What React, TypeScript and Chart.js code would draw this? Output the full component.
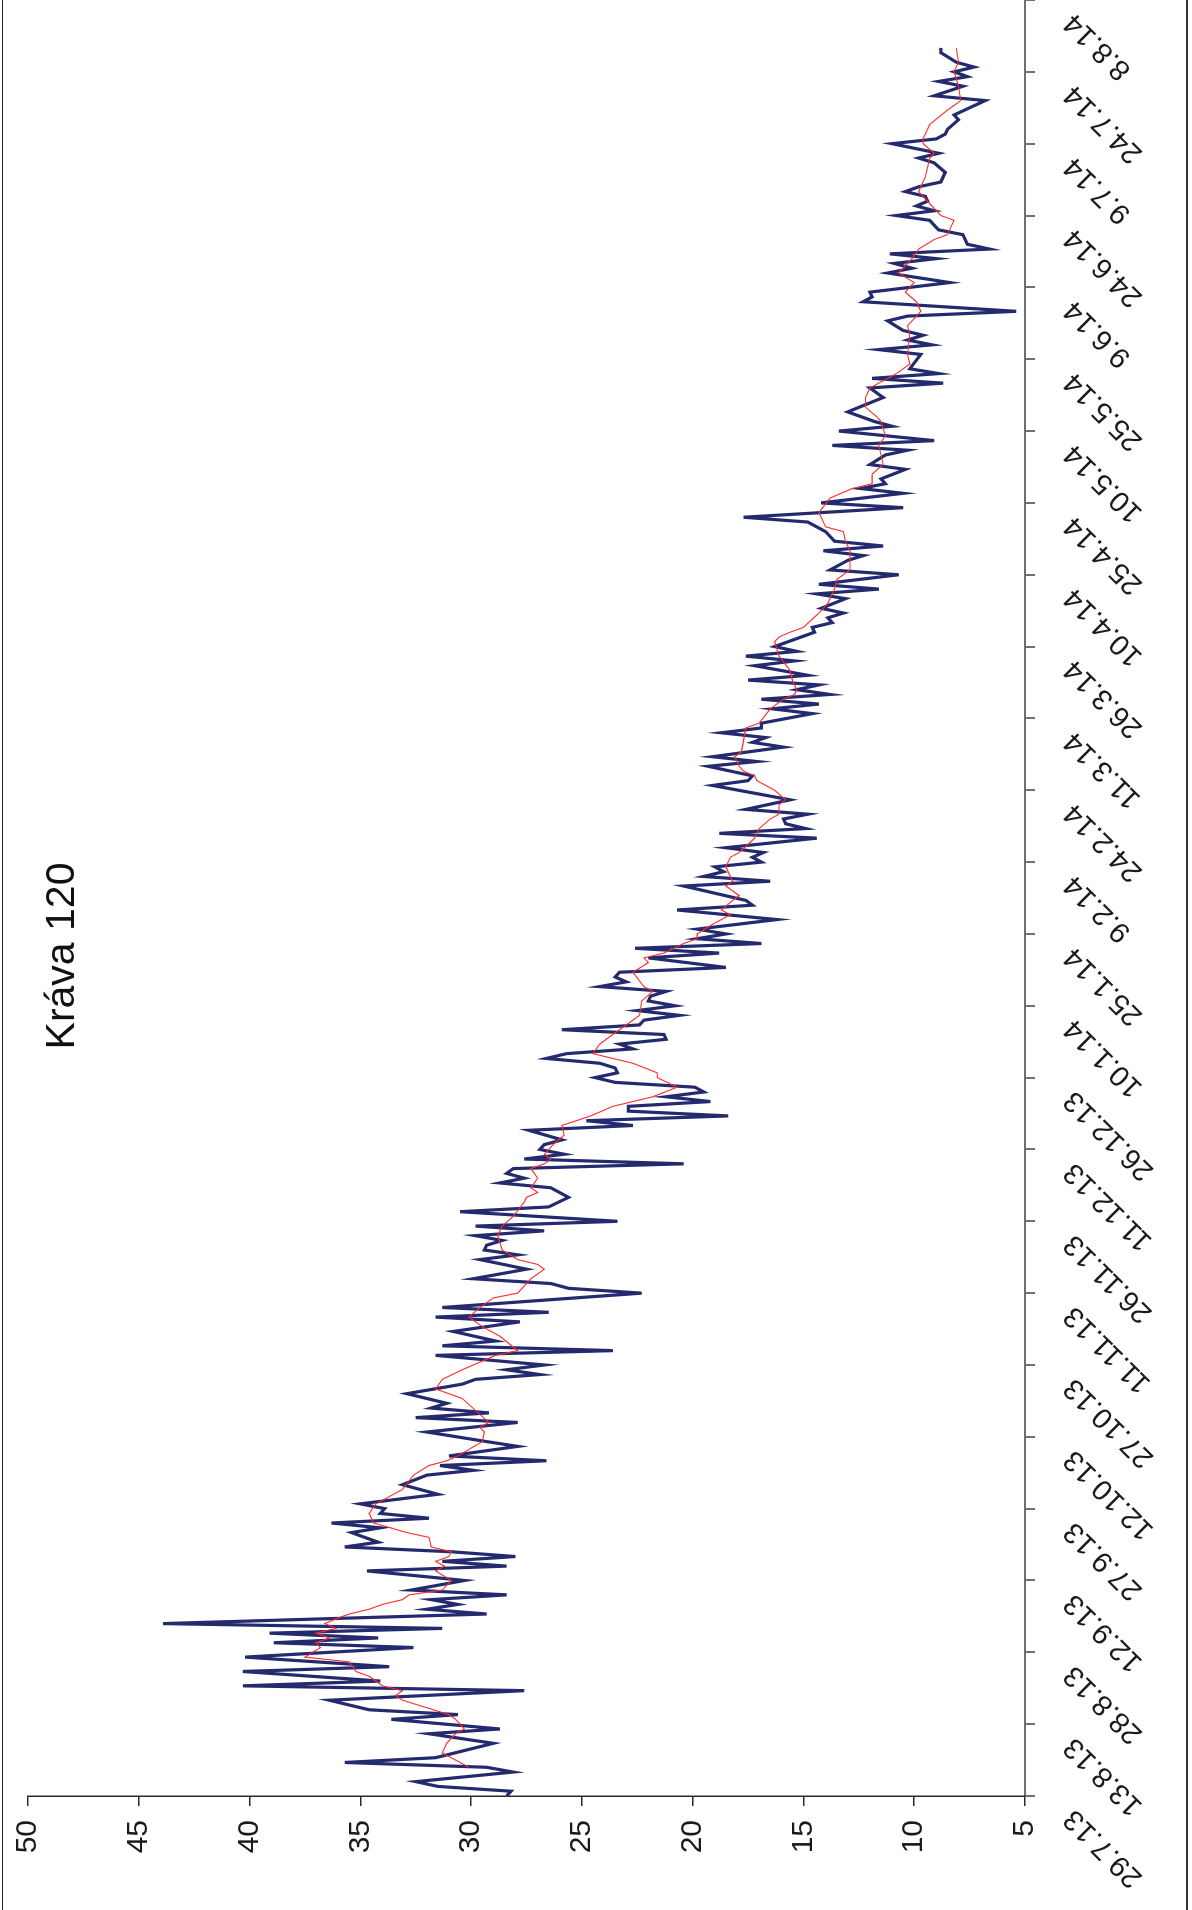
import React, { useEffect, useRef } from 'react';
import { Chart, registerables } from 'chart.js';

Chart.register(...registerables);

const TITLE = 'Kráva 120';

// x-axis: days since 29.7.13, one label every 15 days
const dateLabels = [
  '29.7.13', '13.8.13', '28.8.13', '12.9.13', '27.9.13', '12.10.13', '27.10.13',
  '11.11.13', '26.11.13', '11.12.13', '26.12.13', '10.1.14', '25.1.14', '9.2.14',
  '24.2.14', '11.3.14', '26.3.14', '10.4.14', '25.4.14', '10.5.14', '25.5.14',
  '9.6.14', '24.6.14', '9.7.14', '24.7.14', '8.8.14',
];
const DAYS_PER_LABEL = 15;
const DAY_MAX = 375;

const VALUE_MIN = 5;
const VALUE_MAX = 50;
const VALUE_STEP = 5;

// daily milk yield (blue)
const blueDays = [
  0, 1, 2, 3, 5, 6, 7, 8, 11, 13,
  14, 16, 17, 18, 20, 22, 23, 24, 26, 27,
  29, 31, 32, 33, 34, 35, 36, 38, 39, 40,
  41, 42, 43, 45, 47, 48, 49, 50, 51, 52,
  53, 55, 56, 57, 58, 59, 60, 61, 63, 65,
  67, 68, 69, 70, 71, 73, 74, 76, 78, 79,
  80, 81, 82, 84, 86, 87, 88, 89, 90, 92,
  93, 94, 95, 97, 99, 100, 101, 102, 105, 106,
  107, 108, 110, 112, 113, 114, 115, 116, 117, 118,
  119, 120, 122, 123, 125, 127, 128, 129, 130, 131,
  132, 133, 134, 135, 136, 137, 139, 140, 141, 142,
  143, 144, 145, 146, 147, 148, 149, 150, 151, 152,
  153, 154, 155, 156, 157, 158, 159, 160, 161, 162,
  163, 164, 165, 166, 167, 168, 169, 170, 171, 172,
  173, 175, 176, 177, 178, 179, 180, 181, 183, 185,
  186, 187, 190, 191, 192, 193, 194, 195, 196, 197,
  198, 200, 201, 202, 203, 204, 205, 206, 208, 211,
  212, 213, 215, 216, 217, 219, 220, 221, 222, 223,
  224, 226, 227, 228, 229, 230, 231, 232, 233, 234,
  236, 237, 238, 239, 240, 243, 244, 245, 246, 247,
  248, 250, 251, 252, 253, 255, 256, 258, 259, 260,
  261, 262, 264, 266, 267, 269, 270, 272, 273, 274,
  275, 277, 278, 280, 281, 282, 283, 285, 286, 287,
  289, 292, 294, 295, 296, 297, 298, 301, 302, 303,
  304, 305, 306, 308, 309, 310, 312, 313, 314, 316,
  318, 319, 320, 321, 322, 323, 324, 326, 327, 329,
  330, 331, 332, 333, 334, 335, 336, 337, 339, 341,
  342, 343, 345, 346, 347, 348, 350, 351, 354, 355,
  357, 358, 359, 360, 361, 362, 364, 365,
];
const blueValues = [
  28.4, 28.2, 31.5, 32.5, 28.1, 29.3, 35.7, 31.6, 29.0, 31.9,
  28.7, 33.6, 30.6, 34.6, 36.4, 27.6, 40.3, 34.1, 40.3, 33.7,
  40.2, 32.6, 38.9, 34.2, 39.1, 31.3, 43.9, 29.3, 32.0, 30.6,
  31.8, 28.4, 32.7, 30.3, 34.7, 28.4, 31.3, 28.0, 30.9, 35.7,
  34.2, 35.4, 34.1, 36.3, 31.9, 34.1, 33.9, 35.0, 31.5, 33.1,
  32.0, 29.9, 31.4, 26.6, 31.0, 27.9, 29.3, 32.0, 27.9, 32.5,
  29.2, 31.8, 31.1, 32.9, 30.4, 29.8, 26.9, 28.4, 26.7, 31.6,
  23.6, 31.3, 28.9, 30.8, 27.8, 31.6, 26.5, 31.3, 22.3, 25.6,
  26.4, 29.9, 27.5, 29.6, 27.9, 29.4, 29.3, 28.6, 29.8, 26.7,
  29.8, 23.4, 30.5, 26.5, 25.6, 26.4, 28.7, 27.6, 28.4, 28.1,
  20.4, 27.6, 25.8, 26.9, 26.7, 25.9, 27.4, 22.7, 24.8, 18.4,
  22.9, 22.9, 19.2, 21.2, 19.5, 19.9, 23.5, 24.4, 23.4, 23.5,
  24.2, 26.6, 25.7, 22.7, 23.3, 21.2, 21.3, 25.9, 22.4, 22.2,
  20.6, 22.5, 20.8, 22.0, 21.9, 21.2, 24.2, 23.0, 23.5, 23.3,
  18.5, 22.0, 18.8, 22.6, 16.9, 19.8, 18.5, 19.8, 16.2, 20.7,
  17.3, 17.6, 20.4, 16.5, 19.5, 18.6, 19.0, 16.9, 17.3, 16.8,
  18.5, 14.4, 18.8, 14.9, 15.8, 15.9, 14.8, 17.6, 15.6, 19.1,
  17.5, 17.3, 19.3, 17.1, 19.1, 15.9, 17.3, 16.7, 18.7, 16.9,
  16.9, 14.6, 16.4, 14.3, 16.9, 13.8, 15.3, 14.3, 17.5, 14.8,
  17.2, 15.4, 17.6, 15.3, 16.3, 14.5, 14.6, 13.7, 13.9, 13.2,
  14.2, 13.1, 14.4, 11.6, 14.3, 10.7, 13.8, 13.0, 12.3, 14.1,
  11.4, 13.6, 14.0, 14.8, 17.7, 10.5, 14.2, 10.5, 12.4, 11.3,
  11.5, 10.4, 12.0, 11.3, 10.3, 13.7, 9.1, 13.4, 11.0, 11.8,
  13.0, 11.4, 12.0, 8.7, 11.9, 8.9, 10.2, 9.7, 11.6, 9.2,
  10.3, 9.6, 10.5, 11.2, 10.3, 5.4, 12.3, 11.9, 12.0, 8.4,
  11.2, 10.1, 10.9, 9.0, 11.1, 6.6, 7.6, 7.8, 8.9, 9.3,
  10.8, 9.1, 9.9, 9.4, 9.5, 10.4, 9.8, 8.8, 8.6, 9.1,
  9.8, 8.9, 11.0, 9.0, 8.6, 8.5, 8.0, 8.2, 6.8, 9.1,
  7.8, 8.9, 7.6, 8.2, 7.3, 8.1, 8.8, 8.8,
];

// moving average (red)
const redDays = [
  6, 9, 11, 13, 14, 16, 17, 20, 21, 22,
  23, 25, 26, 28, 29, 31, 32, 33, 34, 35,
  36, 37, 38, 39, 40, 41, 42, 43, 45, 47,
  48, 49, 50, 51, 52, 54, 55, 57, 59, 61,
  64, 67, 69, 70, 71, 74, 76, 77, 78, 83,
  85, 87, 89, 92, 93, 96, 98, 100, 102, 104,
  105, 108, 110, 111, 112, 114, 117, 119, 121, 124,
  125, 126, 127, 129, 131, 132, 133, 134, 136, 138,
  140, 142, 144, 146, 148, 150, 151, 153, 155, 157,
  159, 162, 163, 166, 168, 169, 172, 174, 175, 176,
  178, 179, 180, 182, 184, 185, 187, 188, 190, 191,
  194, 196, 197, 200, 202, 204, 205, 207, 208, 210,
  212, 213, 214, 215, 217, 218, 223, 224, 227, 229,
  230, 231, 233, 235, 238, 241, 242, 243, 244, 247,
  248, 249, 252, 254, 256, 260, 262, 264, 265, 268,
  271, 273, 274, 276, 278, 282, 284, 287, 288, 290,
  292, 294, 295, 297, 299, 301, 305, 307, 310, 312,
  314, 316, 318, 321, 323, 325, 326, 329, 330, 333,
  335, 337, 338, 342, 343, 345, 346, 349, 352, 353,
  354, 357, 360, 362, 365,
];
const redValues = [
  30.1, 31.3, 31.1, 30.7, 30.3, 30.7, 31.0, 33.1, 33.4, 33.1,
  34.0, 34.6, 35.2, 35.5, 37.5, 36.8, 37.0, 36.4, 37.0, 36.1,
  36.6, 36.1, 35.5, 34.6, 34.0, 33.1, 32.8, 31.3, 30.9, 31.6,
  31.2, 31.6, 31.0, 30.9, 31.8, 31.9, 32.9, 34.4, 34.6, 34.3,
  33.1, 32.6, 31.9, 31.1, 30.6, 29.5, 29.4, 29.6, 29.2, 30.4,
  31.6, 31.3, 30.4, 28.9, 27.9, 28.7, 29.5, 30.1, 29.6, 29.0,
  27.9, 27.3, 26.7, 27.0, 27.9, 28.6, 28.8, 28.6, 28.1, 27.6,
  27.5, 27.0, 27.3, 27.0, 27.3, 26.7, 26.4, 26.7, 26.3, 25.8,
  25.9, 24.6, 23.6, 21.8, 20.7, 21.6, 21.6, 22.7, 24.5, 24.2,
  23.6, 22.7, 22.4, 22.3, 21.8, 22.2, 22.7, 22.0, 22.2, 21.3,
  20.4, 19.8, 19.8, 19.1, 18.3, 18.7, 18.2, 17.9, 18.5, 18.2,
  18.5, 18.3, 17.9, 17.2, 17.0, 16.5, 16.1, 16.1, 15.8, 16.3,
  17.1, 17.2, 17.7, 17.9, 18.1, 17.8, 17.6, 17.0, 16.5, 15.9,
  15.4, 15.3, 15.5, 15.6, 16.1, 16.3, 16.1, 15.6, 15.0, 14.3,
  14.1, 13.9, 13.6, 13.5, 12.9, 12.9, 13.1, 13.2, 14.0, 14.3,
  13.8, 12.8, 11.9, 11.9, 11.4, 11.6, 11.3, 11.5, 11.7, 12.2,
  12.2, 12.0, 11.6, 10.8, 10.2, 10.3, 10.2, 10.3, 9.7, 9.9,
  10.4, 10.0, 10.7, 10.1, 9.8, 9.1, 8.5, 8.2, 8.8, 9.4,
  9.8, 9.6, 9.5, 9.3, 9.1, 9.6, 9.6, 9.3, 8.5, 8.2,
  7.9, 8.0, 8.2, 8.0, 8.1,
];

const FONT = '"Liberation Sans", Arial, Helvetica, sans-serif';
const CANVAS_W = 1910;
const CANVAS_H = 1192;

const titlePlugin = {
  id: 'overlayTitle',
  afterDraw(chart: any) {
    const { ctx, chartArea } = chart;
    ctx.save();
    ctx.font = `41px ${FONT}`;
    ctx.fillStyle = '#111111';
    ctx.textAlign = 'center';
    ctx.textBaseline = 'alphabetic';
    ctx.fillText(TITLE, chart.width / 2 - 1, chartArea.top + 46);
    ctx.restore();
  },
};

export default function App() {
  const canvasRef = useRef<HTMLCanvasElement | null>(null);

  useEffect(() => {
    const canvas = canvasRef.current;
    if (!canvas) return;
    Chart.defaults.font.family = FONT;
    const chart = new Chart(canvas, {
      type: 'line',
      data: {
        datasets: [
          {
            data: blueDays.map((d, i) => ({ x: d, y: blueValues[i] })),
            borderColor: '#232a6e',
            borderWidth: 3.2,
            pointRadius: 0,
            tension: 0,
            fill: false,
            order: 1,
          },
          {
            data: redDays.map((d, i) => ({ x: d, y: redValues[i] })),
            borderColor: '#ff2a2a',
            borderWidth: 1.1,
            pointRadius: 0,
            tension: 0,
            fill: false,
            order: 0,
          },
        ],
      },
      options: {
        responsive: false,
        animation: false,
        devicePixelRatio: 1,
        layout: { padding: { top: 28, left: 0, right: 0, bottom: 0 } },
        plugins: {
          legend: { display: false },
          tooltip: { enabled: false },
          title: { display: false },
        },
        scales: {
          x: {
            type: 'linear',
            min: 0,
            max: DAY_MAX,
            border: { display: true, color: '#707070', width: 2 },
            grid: { drawOnChartArea: false, drawTicks: true, tickLength: 10, color: '#707070', lineWidth: 2 },
            ticks: {
              stepSize: DAYS_PER_LABEL,
              maxTicksLimit: 100,
              autoSkip: false,
              minRotation: 45,
              maxRotation: 45,
              padding: 22,
              labelOffset: -18,
              color: '#1a1a1a',
              font: { family: FONT, size: 29 },
              callback: (v: any) => dateLabels[Math.round(Number(v) / DAYS_PER_LABEL)] ?? '',
            },
            afterFit: (s: any) => {
              s.height = 167;
              s.paddingLeft = 0;
              s.paddingRight = 0;
            },
          },
          y: {
            min: VALUE_MIN,
            max: VALUE_MAX,
            border: { display: true, color: '#2a2a2a', width: 1.5 },
            grid: { drawOnChartArea: false, drawTicks: true, tickLength: 10, color: '#2a2a2a', lineWidth: 1.5 },
            ticks: {
              stepSize: VALUE_STEP,
              maxTicksLimit: 20,
              padding: 14,
              color: '#1a1a1a',
              font: { family: FONT, size: 30 },
            },
            afterFit: (s: any) => {
              s.width = 114;
              s.paddingTop = 0;
              s.paddingBottom = 0;
            },
          },
        },
      },
      plugins: [titlePlugin],
    } as any);
    return () => chart.destroy();
  }, []);

  return (
    <div
      style={{
        position: 'absolute',
        left: 0,
        top: 0,
        width: 1192,
        height: 1910,
        overflow: 'hidden',
        background: '#ffffff',
      }}
    >
      <div
        style={{
          position: 'absolute',
          left: 0,
          top: 0,
          width: CANVAS_W,
          height: CANVAS_H,
          transformOrigin: '0 0',
          transform: `translateY(${CANVAS_W}px) rotate(-90deg)`,
        }}
      >
        <canvas
          ref={canvasRef}
          width={CANVAS_W}
          height={CANVAS_H}
          style={{ display: 'block', width: CANVAS_W, height: CANVAS_H }}
        />
      </div>
      <div style={{ position: 'absolute', left: 1.5, top: 0, width: 1.5, height: 1910, background: '#222222' }} />
      <div style={{ position: 'absolute', left: 1186, top: 0, width: 2, height: 1910, background: '#333333' }} />
    </div>
  );
}
